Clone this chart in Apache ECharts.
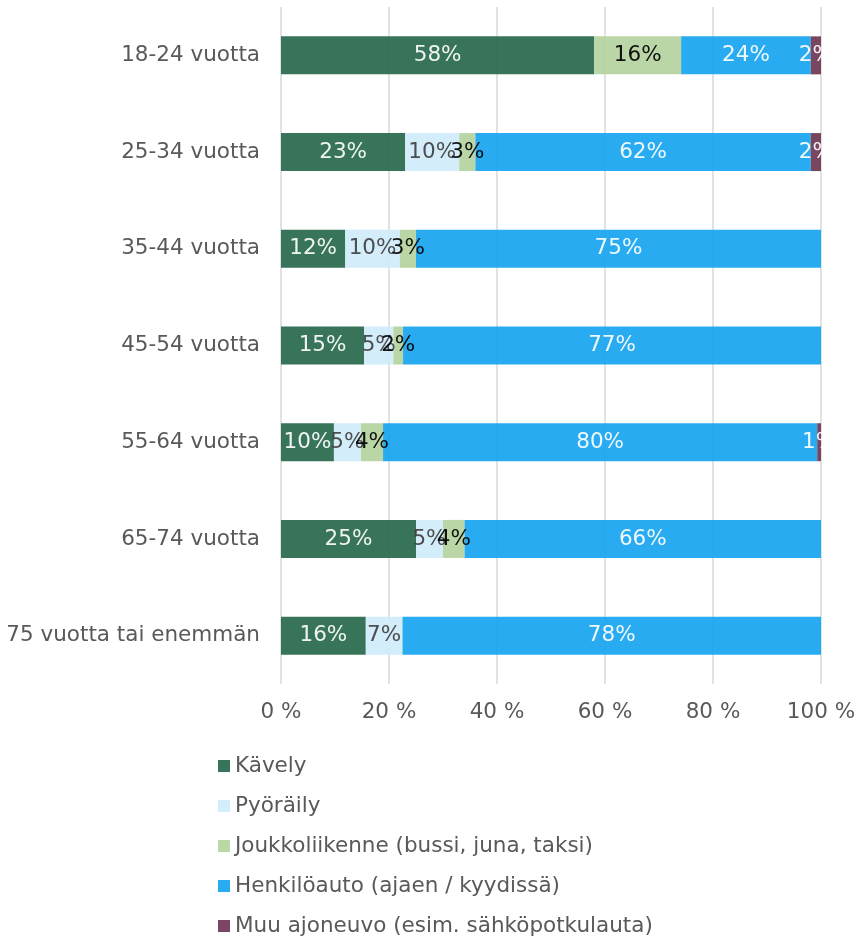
<!DOCTYPE html>
<html>
<head>
<meta charset="utf-8">
<script src="https://cdn.jsdelivr.net/npm/echarts@6/dist/echarts.min.js"></script>
<style>
html,body{margin:0;padding:0;background:#fff;}
#chart{width:861px;height:945px;}
</style>
</head>
<body>
<div id="chart"></div>
<script>
const categories = ['18-24 vuotta','25-34 vuotta','35-44 vuotta','45-54 vuotta','55-64 vuotta','65-74 vuotta','75 vuotta tai enemmän'];
const seriesNames = ['Kävely','Pyöräily','Joukkoliikenne (bussi, juna, taksi)','Henkilöauto (ajaen / kyydissä)','Muu ajoneuvo (esim. sähköpotkulauta)'];
const kavely        = [58.0, 23.0, 11.9, 15.4,  9.8, 25.0, 15.7];
const pyoraily      = [ 0.0, 10.0, 10.1,  5.4,  5.0,  5.0,  6.8];
const joukko        = [16.1,  3.0,  3.0,  1.8,  4.1,  4.0,  0.0];
const henkiloauto   = [24.0, 62.1, 75.0, 77.4, 80.4, 66.0, 77.5];
const muu           = [ 1.9,  1.9,  0.0,  0.0,  0.7,  0.0,  0.0];
const xTicks = [0, 20, 40, 60, 80, 100];

const colors = ['rgb(38,104,76)','rgb(208,235,251)','rgb(180,211,158)','rgb(22,164,239)','rgb(110,54,85)'];
const legendColors = ['#37745A','#D4EDFB','#BAD7A6','#29ABF0','#7A4663'];
const labelColors = ['#ffffff','#404040','#000000','#ffffff','#ffffff'];
const values = [kavely, pyoraily, joukko, henkiloauto, muu];
const FONT = 'DejaVu Sans';

const chart = echarts.init(document.getElementById('chart'), null, {renderer:'canvas'});
chart.setOption({
  animation:false,
  backgroundColor:'#ffffff',
  color: legendColors,
  grid:{left:281, right:40, top:7, bottom:261},
  xAxis:{
    type:'value', min:xTicks[0], max:xTicks[xTicks.length-1], interval:20,
    axisLine:{show:false}, axisTick:{show:false},
    axisLabel:{formatter:'{value} %', color:'#595959', fontFamily:FONT, fontSize:21.5, margin:17},
    splitLine:{show:true, lineStyle:{color:'#d9d9d9', width:1.5}}
  },
  yAxis:{
    type:'category', data:categories, inverse:true,
    axisLine:{show:false}, axisTick:{show:false},
    axisLabel:{color:'#595959', fontFamily:FONT, fontSize:21.5, margin:21}
  },
  legend:{
    orient:'vertical', left:218, top:755, padding:0,
    itemWidth:12, itemHeight:12, itemGap:18,
    icon:'rect',
    textStyle:{color:'#595959', fontFamily:FONT, fontSize:21.5, lineHeight:22},
    data: seriesNames.map((n,i)=>({name:n, itemStyle:{color:legendColors[i], opacity:1}}))
  },
  graphic:[{
    type:'rect', z:100, silent:true,
    shape:{x:822, y:0, width:39, height:684},
    style:{fill:'#ffffff'}
  }],
  series: seriesNames.map((name,i)=>({
    name:name, type:'bar', stack:'total',
    barWidth:38,
    data: values[i],
    itemStyle:{color:colors[i], opacity:0.92},
    label:{
      show:true, position:'inside', color:labelColors[i],
      fontFamily:FONT, fontSize:21.5,
      formatter: p => p.value > 0 ? Math.round(p.value) + '%' : ''
    }
  }))
});
</script>
</body>
</html>
